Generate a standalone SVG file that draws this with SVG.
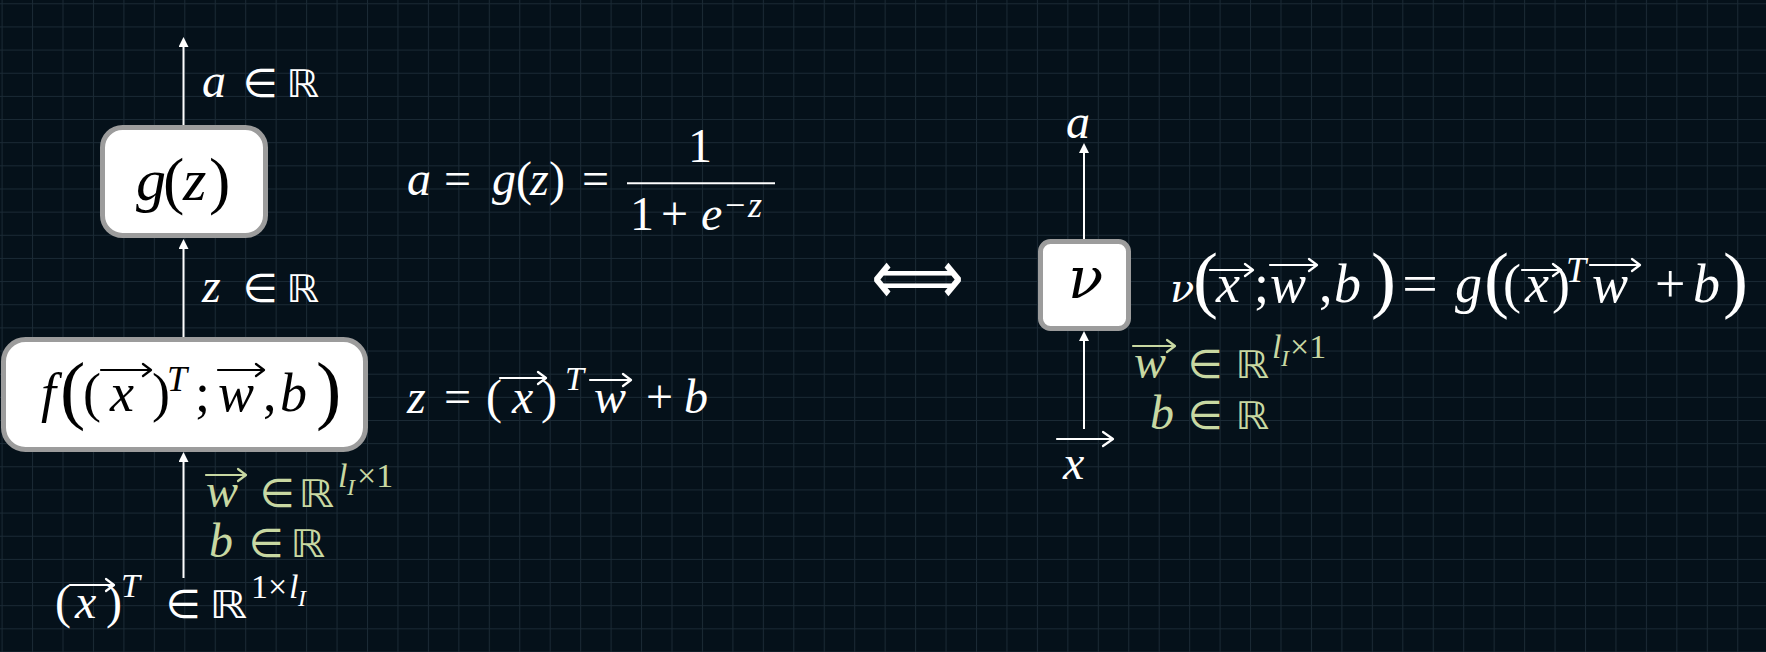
<svg xmlns="http://www.w3.org/2000/svg" width="1766" height="652" viewBox="0 0 1766 652">
<defs>
<pattern id="grid" x="1.6" y="3.3" width="30.45" height="23.15" patternUnits="userSpaceOnUse">
<path d="M0,0 V23.15 M0,0 H30.45" stroke="#1b2a35" stroke-width="2" fill="none"/>
</pattern>
<marker id="ah" viewBox="0 0 10 10" refX="0" refY="5" markerWidth="10" markerHeight="10" markerUnits="userSpaceOnUse" orient="auto">
<path d="M0,0 L10,5 L0,10 z" fill="#ffffff"/>
</marker>
</defs>
<style>
.m { font-family: "Liberation Serif", "DejaVu Serif", serif; fill: #ffffff; font-size: 48px; }
.i { font-style: italic; }
.s { font-family: "DejaVu Sans", "DejaVu Serif", sans-serif; font-style: normal; }
.nu { font-family: "DejaVu Serif", serif; font-style: italic; }
.gr { fill: #c8d8a2; }
.k { fill: #000000; }
.box { fill: #ffffff; stroke: #9c9c9c; stroke-width: 5; }
.conn { stroke: #ffffff; stroke-width: 2; fill: none; marker-end: url(#ah); }
.vec { fill: none; stroke-width: 2.2; stroke-linecap: round; stroke-linejoin: round; }
.vw { stroke: #ffffff; }
.vk { stroke: #000000; }
.vg { stroke: #c8d8a2; }
</style>
<rect x="0" y="0" width="1766" height="652" fill="#05111a"/>
<rect x="0" y="0" width="1766" height="652" fill="url(#grid)"/>

<g id="connectors">
<line class="conn" x1="183.5" y1="125" x2="183.5" y2="47"/>
<line class="conn" x1="183.5" y1="337" x2="183.5" y2="249"/>
<line class="conn" x1="183.5" y1="578" x2="183.5" y2="462"/>
<line class="conn" x1="1084" y1="239" x2="1084" y2="153"/>
<line class="conn" x1="1084" y1="429" x2="1084" y2="341"/>
</g>

<g id="node-g">
<rect class="box" x="102.5" y="127.5" width="163" height="108" rx="20"/>
<text class="m k" font-size="60"><tspan class="i" x="136" y="200" font-size="60">g</tspan><tspan x="163" y="202" font-size="64">(</tspan><tspan class="i" x="183" y="200" font-size="60">z</tspan><tspan x="209" y="202" font-size="64">)</tspan></text>
</g>

<g id="node-f">
<rect class="box" x="3.5" y="339.5" width="362" height="110" rx="22"/>
<text class="m k" font-size="54"><tspan class="i" x="41" y="411" font-size="54">f</tspan><tspan x="60" y="415" font-size="76">(</tspan><tspan x="83" y="411" font-size="54">(</tspan><tspan class="i" x="110" y="411" font-size="54">x</tspan><tspan x="152" y="411" font-size="54">)</tspan><tspan class="i" x="167" y="391" font-size="36">T</tspan><tspan x="195" y="411" font-size="54">;</tspan><tspan class="i" x="218" y="411" font-size="54">w</tspan><tspan x="263" y="411" font-size="54">,</tspan><tspan class="i" x="280" y="411" font-size="54">b</tspan><tspan x="316" y="415" font-size="76">)</tspan></text>
<path class="vec vk" d="M101,370 H151 M143,364 L151,370 L143,376 M218,370 H264 M256,364 L264,370 L256,376"/>
</g>

<g id="node-nu">
<rect class="box" x="1040.5" y="241.5" width="88" height="87" rx="10"/>
<text class="k nu" x="1068" y="298" font-size="58">ν</text>
</g>

<g id="labels-left">
<text class="m" y="97"><tspan class="i" x="202">a</tspan><tspan class="s" x="243" font-size="40">∈</tspan><tspan class="s" x="286" font-size="38" textLength="33" lengthAdjust="spacingAndGlyphs">ℝ</tspan></text>
<text class="m" y="302"><tspan class="i" x="202">z</tspan><tspan class="s" x="243" font-size="40">∈</tspan><tspan class="s" x="286" font-size="38" textLength="33" lengthAdjust="spacingAndGlyphs">ℝ</tspan></text>
<text class="m gr"><tspan class="i" x="206" y="507">w</tspan><tspan class="s" x="260" y="507" font-size="40">∈</tspan><tspan class="s" x="298" y="507" font-size="38" textLength="36" lengthAdjust="spacingAndGlyphs">ℝ</tspan><tspan class="i" x="338" y="487" font-size="34">l</tspan><tspan class="i" x="347" y="495" font-size="24">I</tspan><tspan x="357" y="487" font-size="34">×1</tspan></text>
<path class="vec vg" d="M206,475 H246 M238,469 L246,475 L238,481"/>
<text class="m gr" y="557"><tspan class="i" x="209">b</tspan><tspan class="s" x="249" font-size="40">∈</tspan><tspan class="s" x="290" font-size="38" textLength="35" lengthAdjust="spacingAndGlyphs">ℝ</tspan></text>
<text class="m"><tspan x="55" y="618">(</tspan><tspan class="i" x="75" y="618">x</tspan><tspan x="106" y="618">)</tspan><tspan class="i" x="121" y="597" font-size="34">T</tspan><tspan class="s" x="166" y="618" font-size="40">∈</tspan><tspan class="s" x="209" y="618" font-size="38" textLength="38" lengthAdjust="spacingAndGlyphs">ℝ</tspan><tspan x="251" y="598" font-size="34">1×</tspan><tspan class="i" x="289" y="598" font-size="34">l</tspan><tspan class="i" x="298" y="606" font-size="24">I</tspan></text>
<path class="vec vw" d="M70,585 H114 M106,579 L114,585 L106,591"/>
</g>

<g id="formula-sigmoid">
<text class="m" y="195"><tspan class="i" x="407">a</tspan><tspan x="444">=</tspan><tspan class="i" x="492">g</tspan><tspan x="516">(</tspan><tspan class="i" x="530">z</tspan><tspan x="549">)</tspan><tspan x="582">=</tspan></text>
<text class="m" x="688" y="162">1</text>
<line x1="627" y1="183.3" x2="775" y2="183.3" stroke="#ffffff" stroke-width="2"/>
<text class="m"><tspan x="630" y="230">1</tspan><tspan x="661" y="230">+</tspan><tspan class="i" x="701" y="230">e</tspan><tspan x="725" y="217" font-size="36">−</tspan><tspan class="i" x="748" y="217" font-size="36">z</tspan></text>
</g>

<g id="formula-linear">
<text class="m"><tspan class="i" x="407" y="413">z</tspan><tspan x="444" y="413">=</tspan><tspan x="486" y="413">(</tspan><tspan class="i" x="512" y="413">x</tspan><tspan x="541" y="413">)</tspan><tspan class="i" x="565" y="390" font-size="34">T</tspan><tspan class="i" x="594" y="413">w</tspan><tspan x="646" y="413">+</tspan><tspan class="i" x="684" y="413">b</tspan></text>
<path class="vec vw" d="M500,378 H546 M538,372 L546,378 L538,384 M590,380 H631 M623,374 L631,380 L623,386"/>
</g>

<g id="equivalence">
<text class="s" x="871" y="304" font-size="78" fill="#ffffff" textLength="93" lengthAdjust="spacingAndGlyphs">⟺</text>
</g>

<g id="labels-right">
<text class="m i" x="1066" y="138" font-size="64">a</text>
<text class="m" font-size="54"><tspan class="nu" x="1170" y="302" font-size="40">ν</tspan><tspan x="1193" y="304" font-size="75">(</tspan><tspan class="i" x="1216" y="302" font-size="54">x</tspan><tspan x="1254" y="302" font-size="54">;</tspan><tspan class="i" x="1270" y="302" font-size="54">w</tspan><tspan x="1319" y="302" font-size="54">,</tspan><tspan class="i" x="1334" y="302" font-size="54">b</tspan><tspan x="1371" y="304" font-size="75">)</tspan><tspan x="1402" y="302" font-size="54" textLength="36" lengthAdjust="spacingAndGlyphs">=</tspan><tspan class="i" x="1455" y="302" font-size="54">g</tspan><tspan x="1484" y="304" font-size="75">(</tspan><tspan x="1503" y="302" font-size="54">(</tspan><tspan class="i" x="1525" y="302" font-size="54">x</tspan><tspan x="1552" y="302" font-size="54">)</tspan><tspan class="i" x="1566" y="282" font-size="36">T</tspan><tspan class="i" x="1592" y="302" font-size="54">w</tspan><tspan x="1655" y="302" font-size="54">+</tspan><tspan class="i" x="1693" y="302" font-size="54">b</tspan><tspan x="1723" y="304" font-size="75">)</tspan></text>
<path class="vec vw" d="M1210,270 H1253 M1245,264 L1253,270 L1245,276 M1270,265 H1317 M1309,259 L1317,265 L1309,271 M1522,270 H1561 M1553,264 L1561,270 L1553,276 M1590,265 H1640 M1632,259 L1640,265 L1632,271"/>
<text class="m gr"><tspan class="i" x="1134" y="378">w</tspan><tspan class="s" x="1188" y="378" font-size="40">∈</tspan><tspan class="s" x="1235" y="378" font-size="38" textLength="34" lengthAdjust="spacingAndGlyphs">ℝ</tspan><tspan class="i" x="1272" y="358" font-size="34">l</tspan><tspan class="i" x="1281" y="366" font-size="24">I</tspan><tspan x="1290" y="358" font-size="34">×1</tspan></text>
<path class="vec vg" d="M1133,346 H1175 M1167,340 L1175,346 L1167,352"/>
<text class="m gr" y="429"><tspan class="i" x="1150">b</tspan><tspan class="s" x="1188" font-size="40">∈</tspan><tspan class="s" x="1235" font-size="38" textLength="34" lengthAdjust="spacingAndGlyphs">ℝ</tspan></text>
<text class="m i" x="1063" y="479" font-size="66">x</text>
<path class="vec vw" d="M1057,439 H1113 M1103,432 L1113,439 L1103,446" stroke-width="3"/>
</g>
</svg>
